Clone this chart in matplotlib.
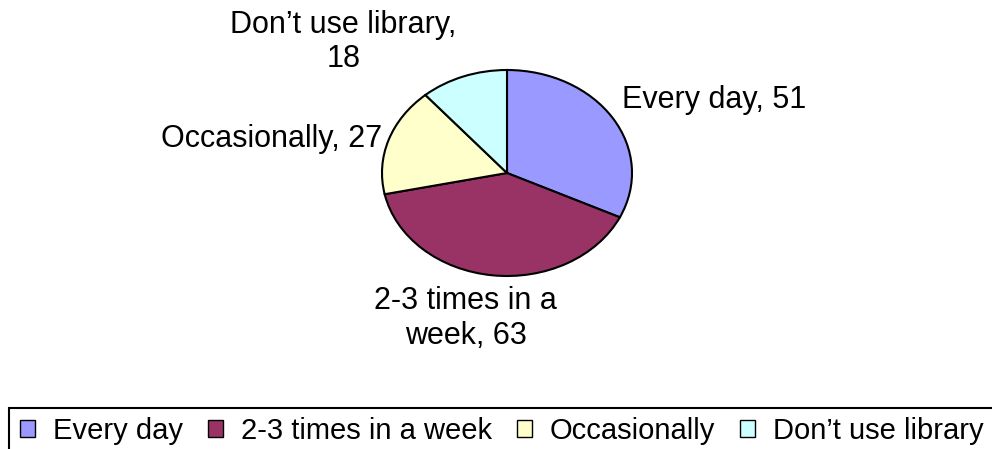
import textwrap
import matplotlib
matplotlib.use("Agg")
import matplotlib.pyplot as plt
from matplotlib.patches import Patch, Rectangle

plt.rcParams['font.family'] = ['Liberation Sans', 'DejaVu Sans']

categories = ["Every day", "2-3 times in a week", "Occasionally", "Don\u2019t use library"]
values = [51, 63, 27, 18]
colors = ["#9999FF", "#993366", "#FFFFCC", "#CCFFFF"]

# label anchors in pie units (x, y) and alignment
label_pos = [(0.92, 0.71), (-0.33, -1.41), (-1.0, 0.33), (-1.31, 1.27)]
label_ha = ["left", "center", "right", "center"]

fig = plt.figure(figsize=(9.92, 4.49), dpi=100)
ax = fig.add_axes([382 / 992, (449 - 276) / 449, 250 / 992, 206 / 449])

wedges, _ = ax.pie(values, colors=colors, startangle=90, counterclock=False,
                   wedgeprops=dict(edgecolor="black", linewidth=1.5, clip_on=False))
ax.set_aspect("auto")
ax.set_xlim(-1, 1)
ax.set_ylim(-1, 1)

for cat, val, (lx, ly), ha in zip(categories, values, label_pos, label_ha):
    txt = textwrap.fill(f"{cat}, {val}", 18)
    ax.text(lx, ly, txt, ha=ha, va="center", multialignment="center",
            fontsize=22, linespacing=1.2, clip_on=False)

handles = [Patch(facecolor=c, edgecolor="black", linewidth=1) for c in colors]
fig.legend(handles, categories, loc="center left", bbox_to_anchor=(20 / 992, 1 - 431 / 449),
           ncol=4, frameon=False, fontsize=21, borderpad=0, borderaxespad=0,
           handlelength=0.53, handleheight=0.53, handletextpad=0.6, columnspacing=0.85)

fig.add_artist(Rectangle((9 / 992, -0.1), 1.2, (449 - 408) / 449 + 0.1,
                         transform=fig.transFigure, fill=False, edgecolor="black", linewidth=1.5))

fig.savefig("out.png", dpi=100)
